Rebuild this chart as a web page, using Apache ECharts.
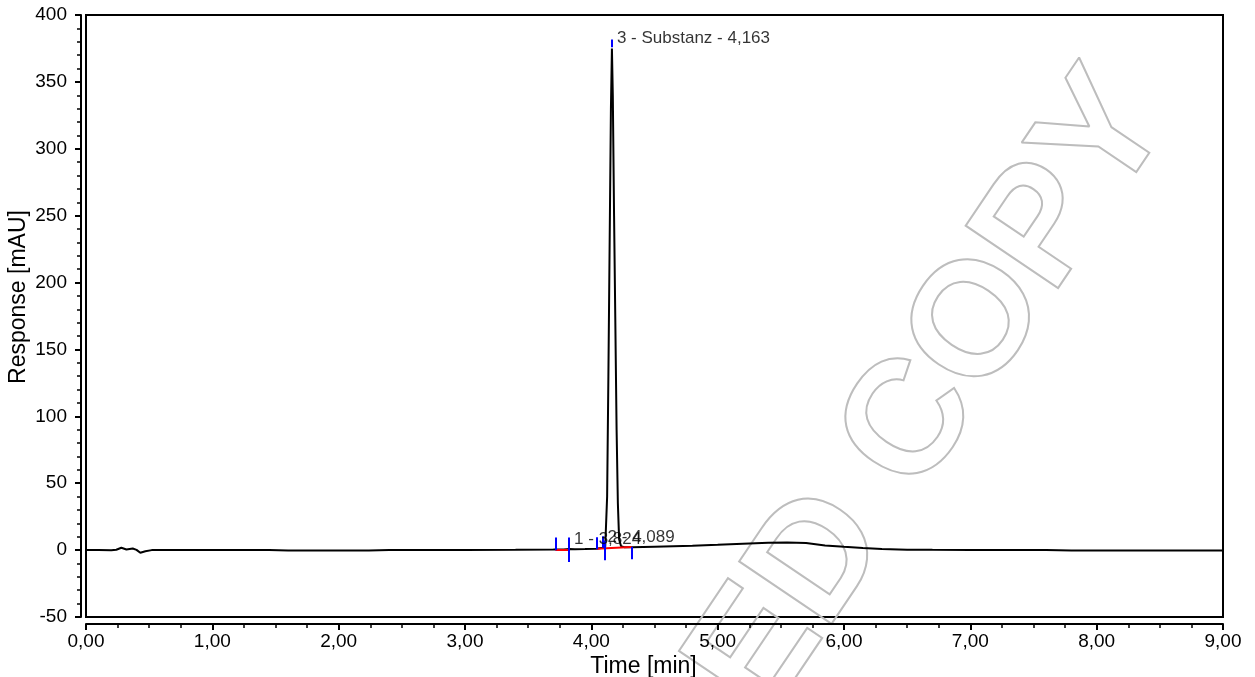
<!DOCTYPE html>
<html>
<head>
<meta charset="utf-8">
<script src="https://cdn.jsdelivr.net/npm/echarts@6/dist/echarts.min.js"></script>
<style>
html,body{margin:0;padding:0;background:#fff;}
#chart{width:1255px;height:677px;}
</style>
</head>
<body>
<div id="chart"></div>
<script>
// ---- data ----
const times = [0, 0.1, 0.2, 0.24, 0.28, 0.32, 0.37, 0.40, 0.43, 0.47, 0.52, 1.0, 1.45, 1.6, 2.0, 2.24, 2.4, 3.0, 3.4, 3.7,
  3.78, 3.824, 3.87, 3.95, 4.04, 4.089, 4.11, 4.125, 4.135, 4.145, 4.155, 4.163, 4.170, 4.180, 4.190, 4.200, 4.210, 4.220, 4.235, 4.26,
  4.32, 4.5, 4.8, 5.0, 5.2, 5.4, 5.55, 5.7, 5.85, 6.0, 6.15, 6.3, 6.5, 6.7, 7.0, 7.6, 7.8, 8.5, 9.0];
const response = [0, 0, -0.1, 0.3, 1.8, 0.5, 1.2, 0.2, -2.0, -0.8, 0, 0, 0, -0.3, -0.3, -0.3, 0, 0, 0.2, 0.4,
  0.5, 0.8, 0.6, 0.8, 1.1, 1.8, 2.5, 40, 130, 230, 330, 375, 340, 250, 170, 90, 35, 8, 3, 2.2,
  2.2, 2.6, 3.3, 4.0, 4.8, 5.5, 5.7, 5.4, 3.5, 2.5, 1.6, 0.8, 0.3, 0.2, 0.1, 0.0, -0.3, -0.3, -0.3];

const peakTimes = [3.824, 4.089, 4.163];
const peakHeights = [0.8, 1.8, 375];
const peakNames = ['1 - 3,824', '2 - 4,089', '3 - Substanz - 4,163'];

// peak delimiter / retention tick marks (time, from, to in mAU)
const tickTimes = [3.716, 3.824, 4.041, 4.089, 4.105, 4.318, 4.163];
const tickFrom  = [-0.1, -8.9, 0.6, 1.8, -7.6, -6.9, 375.8];
const tickTo    = [9.4, 9.4, 9.6, 10.3, 7.0, 2.3, 381.6];

// integration baselines
const baseStartT = [3.716, 4.041];
const baseStartY = [0.4, 1.1];
const baseEndT   = [3.824, 4.318];
const baseEndY   = [0.4, 2.3];

const xMin = 0, xMax = 9, xStep = 1;
const yMin = -50, yMax = 400, yStep = 50;

// ---- chart ----
const FONT = 'Liberation Sans, Arial, sans-serif';
const chart = echarts.init(document.getElementById('chart'), null, {renderer: 'canvas'});

const signal = times.map((t, i) => [t, response[i]]);
const tickLines = tickTimes.map((t, i) => [{coord: [t, tickFrom[i]]}, {coord: [t, tickTo[i]]}]);
const baseLines = baseStartT.map((t, i) => [{coord: [t, baseStartY[i]]}, {coord: [baseEndT[i], baseEndY[i]]}]);
const labelPts = peakTimes.map((t, i) => [t, peakHeights[i]]);

const axisCommon = {
  type: 'value',
  axisLine: {show: true, onZero: false, lineStyle: {color: '#000', width: 2}},
  axisTick: {show: true, length: 6, lineStyle: {color: '#000', width: 2}},
  minorTick: {show: true, length: 4, lineStyle: {color: '#000', width: 1.5}},
  splitLine: {show: false},
  minorSplitLine: {show: false},
  nameMoveOverlap: false,
  axisLabel: {color: '#000', fontSize: 19, fontFamily: FONT},
  nameTextStyle: {color: '#000', fontSize: 23, fontFamily: FONT}
};

chart.setOption({
  animation: false,
  backgroundColor: '#fff',
  grid: {left: 86, right: 32, top: 15, bottom: 60, show: true, borderColor: '#000', borderWidth: 2,
    containLabel: false, outerBoundsMode: 'none'},
  graphic: [{
    type: 'text',
    x: 932, y: 395,
    rotation: 56 * Math.PI / 180,
    z: 0, zlevel: 0, silent: true,
    style: {
      text: 'ED COPY',
      font: 'bold 162px "Liberation Sans", Arial, sans-serif',
      fill: 'none',
      stroke: '#bdbdbd',
      lineWidth: 2,
      textAlign: 'center',
      textVerticalAlign: 'middle'
    }
  }],
  xAxis: Object.assign({}, axisCommon, {
    min: xMin, max: xMax, interval: xStep, offset: 7,
    minorTick: Object.assign({}, axisCommon.minorTick, {splitNumber: 4}),
    axisLabel: Object.assign({}, axisCommon.axisLabel, {margin: 8, formatter: v => v.toFixed(2).replace('.', ',')}),
    name: 'Time [min]', nameLocation: 'middle', nameGap: 31,
    nameTextStyle: Object.assign({}, axisCommon.nameTextStyle, {padding: [0, 22, 0, 0]})
  }),
  yAxis: Object.assign({}, axisCommon, {
    min: yMin, max: yMax, interval: yStep, offset: 5,
    minorTick: Object.assign({}, axisCommon.minorTick, {splitNumber: 5}),
    axisLabel: Object.assign({}, axisCommon.axisLabel, {margin: 14}),
    name: 'Response [mAU]', nameLocation: 'middle', nameGap: 51, nameRotate: 90,
    nameTextStyle: Object.assign({}, axisCommon.nameTextStyle, {padding: [0, 0, 0, 38]})
  }),
  series: [
    {
      type: 'line',
      data: signal,
      showSymbol: false,
      smooth: false,
      z: 3,
      lineStyle: {color: '#000', width: 2},
      markLine: {
        silent: true, symbol: 'none', animation: false,
        label: {show: false},
        lineStyle: {color: '#ff0000', width: 2, type: 'solid'},
        data: baseLines
      }
    },
    {
      type: 'line',
      data: [],
      z: 4,
      markLine: {
        silent: true, symbol: 'none', animation: false,
        label: {show: false},
        lineStyle: {color: '#0000ff', width: 2, type: 'solid'},
        data: tickLines
      }
    },
    {
      type: 'scatter',
      data: labelPts,
      symbolSize: 0,
      z: 5,
      label: {
        show: true, position: 'right', distance: 5, offset: [0, -10],
        color: '#000', fontSize: 17, fontFamily: FONT,
        formatter: p => peakNames[p.dataIndex]
      }
    }
  ]
});
</script>
</body>
</html>
